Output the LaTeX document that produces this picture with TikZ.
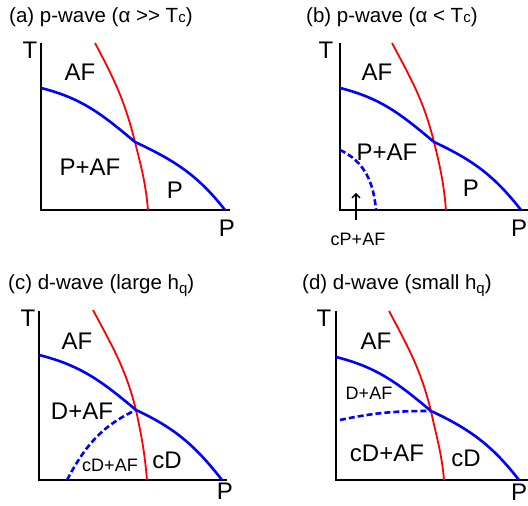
\documentclass[tikz,border=0pt]{standalone}
\usepackage{fontspec}
\setmainfont{Liberation Sans}
\usetikzlibrary{arrows.meta}

\begin{document}
\begin{tikzpicture}[x=1pt,y=1pt,line join=miter,
  axis/.style={line width=2.6pt},
  afline/.style={red,line width=1.8pt},
  scline/.style={blue,line width=2.6pt},
  coex/.style={blue,line width=2.6pt,dash pattern=on 6pt off 3pt},
  big/.style={font=\fontsize{24}{24}\selectfont,inner sep=0pt},
  small/.style={font=\fontsize{18}{18}\selectfont,inner sep=0pt},
  title/.style={font=\fontsize{20.5}{20.5}\selectfont,anchor=west,inner sep=0pt}]
\useasboundingbox (0,0) rectangle (528,506);
% (a) p-wave, large alpha
\begin{scope}[shift={(41,296)}]
\coordinate (a-top) at (54,167);\coordinate (a-k) at (94,68);\coordinate (a-bot) at (107,0);
\coordinate (a-sc) at (0,122);\coordinate (a-end) at (184,0);
\draw[axis] (0,167) -- (0,0) -- (189,0);
\draw[afline] (a-top) to[out=-62,in=104] (a-k) to[out=-76,in=95] (a-bot);
\draw[scline] (a-sc) to[out=-14,in=140] (a-k) to[out=-25,in=128] (a-end);
\node[title] (a-title) at (-32,193) {(a) p-wave (α {>}{>} T{\fontsize{15}{15}\selectfont c})};
\node[big] (a-T) at (-11,160) {T};
\node[big] (a-P) at (186,-18) {P};
\node[big] (a-AF) at (39,138) {AF};
\node[big] (a-PAF) at (49,43) {P+AF};
\node[big] (a-PP) at (134,20) {P};
\end{scope}
% (b) p-wave, small alpha
\begin{scope}[shift={(340,296)}]
\coordinate (b-top) at (52,167);\coordinate (b-k) at (94,68);\coordinate (b-bot) at (106,0);
\coordinate (b-sc) at (0,122);\coordinate (b-end) at (181,0);
\coordinate (b-cs) at (0,60);\coordinate (b-ce) at (36,0);
\coordinate (b-foot) at (16,-10);\coordinate (b-tip) at (16,17);
\draw[axis] (0,167) -- (0,0) -- (190,0);
\draw[afline] (b-top) to[out=-62,in=104] (b-k) to[out=-76,in=95] (b-bot);
\draw[scline] (b-sc) to[out=-14,in=140] (b-k) to[out=-25,in=128] (b-end);
\draw[coex] (b-cs) to[out=-25,in=95] (b-ce);
\draw[-{Straight Barb[length=4pt,width=8pt]},line width=1.3pt] (b-foot) -- (b-tip);
\node[title] (b-title) at (-34,193) {(b) p-wave (α < T{\fontsize{15}{15}\selectfont c})};
\node[big] (b-T) at (-14,160) {T};
\node[big] (b-P) at (179,-18) {P};
\node[big] (b-AF) at (37,138) {AF};
\node[big] (b-PAF) at (47,58) {P+AF};
\node[big] (b-PP) at (131,22) {P};
\node[small] (b-cPAF) at (18,-29) {cP+AF};
\end{scope}
% (c) d-wave, large h_q
\begin{scope}[shift={(39,26)}]
\coordinate (c-top) at (54,170);\coordinate (c-k) at (97,70);\coordinate (c-bot) at (108,0);
\coordinate (c-sc) at (0,125);\coordinate (c-end) at (183,0);
\coordinate (c-cs) at (28,0);
\draw[axis] (0,169) -- (0,0) -- (188,0);
\draw[afline] (c-top) to[out=-62,in=104] (c-k) to[out=-78,in=95] (c-bot);
\draw[scline] (c-sc) to[out=-14,in=140] (c-k) to[out=-25,in=128] (c-end);
\draw[coex] (c-cs) to[out=62,in=-155] (c-k);
\node[title] (c-title) at (-31,194) {(c) d-wave (large h\raisebox{-4pt}{\fontsize{15}{15}\selectfont q})};
\node[big] (c-T) at (-11,162) {T};
\node[big] (c-P) at (186,-11) {P};
\node[big] (c-AF) at (38,139) {AF};
\node[big] (c-DAF) at (43,69) {D+AF};
\node[small] (c-cDAF) at (71,15) {cD+AF};
\node[big] (c-cD) at (128,20) {cD};
\end{scope}
% (d) d-wave, small h_q
\begin{scope}[shift={(336,26)}]
\coordinate (d-top) at (53,169);\coordinate (d-k) at (95,69);\coordinate (d-bot) at (108,0);
\coordinate (d-sc) at (0,123);\coordinate (d-end) at (183,0);
\coordinate (d-cs) at (4,60);
\draw[axis] (0,169) -- (0,0) -- (194,0);
\draw[afline] (d-top) to[out=-62,in=104] (d-k) to[out=-78,in=95] (d-bot);
\draw[scline] (d-sc) to[out=-14,in=140] (d-k) to[out=-25,in=128] (d-end);
\draw[coex] (d-cs) to[out=12,in=180] (d-k);
\node[title] (d-title) at (-34,194) {(d) d-wave (small h\raisebox{-4pt}{\fontsize{15}{15}\selectfont q})};
\node[big] (d-T) at (-12,162) {T};
\node[big] (d-P) at (183,-12) {P};
\node[big] (d-AF) at (40,139) {AF};
\node[small] (d-DAF) at (33,87) {D+AF};
\node[big] (d-cDAF) at (51,27) {cD+AF};
\node[big] (d-cD) at (130,22) {cD};
\end{scope}
\end{tikzpicture}
\end{document}
